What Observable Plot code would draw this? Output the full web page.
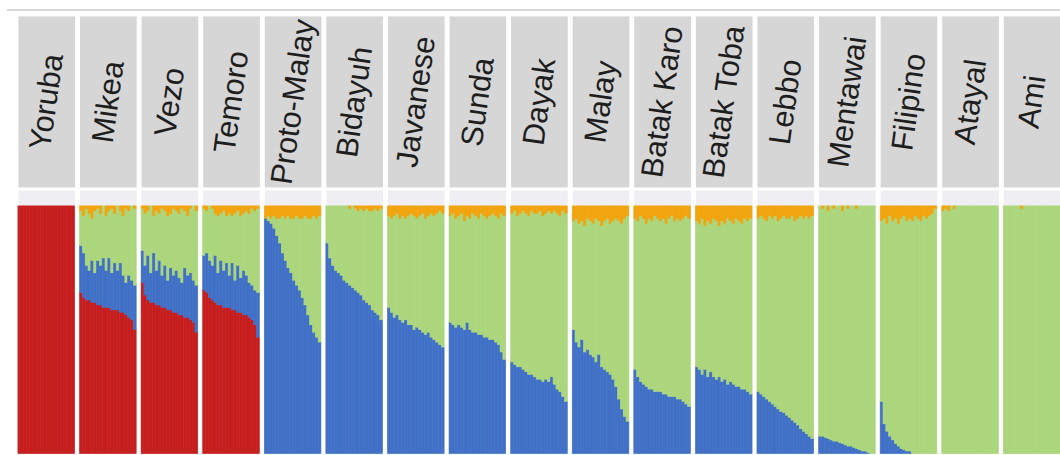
<!DOCTYPE html>
<html><head><meta charset="utf-8">
<script src="https://cdn.jsdelivr.net/npm/d3@7"></script>
<script src="https://cdn.jsdelivr.net/npm/@observablehq/plot@0.6"></script>
<style>
html,body{margin:0;padding:0;background:#fff;overflow:hidden;width:1060px;height:455px;}
#wrap{position:relative;width:1060px;height:455px;overflow:hidden;}
#rule{position:absolute;left:7px;top:9px;width:1060px;height:2px;background:#d6d6d6;}
#strips{position:absolute;left:0;top:0;}
#bars{position:absolute;left:0;top:190px;}
</style></head><body>
<div id="wrap"><div id="rule"></div><div id="strips"></div><div id="bars"></div></div>
<script>
// Populations (facet order)
const populations = ["Yoruba","Mikea","Vezo","Temoro","Proto-Malay","Bidayuh","Javanese","Sunda","Dayak","Malay","Batak Karo","Batak Toba","Lebbo","Mentawai","Filipino","Atayal","Ami"];
// Ancestry components, bottom to top
const components = ["African","Austronesian","Asian","Other"];
const componentColors = ["#c61e1e","#4171c6","#acd67c","#f2a40e"];

// Per-individual ancestry fractions (20 individuals per population); the "Asian" share is the remainder
const yorubaRed      = [1,1,1,1,1,1,1,1,1,1,1,1,1,1,1,1,1,1,1,1];

const mikeaRed       = [0.65,0.63,0.62,0.62,0.61,0.61,0.60,0.60,0.59,0.59,0.59,0.58,0.58,0.58,0.57,0.57,0.56,0.55,0.54,0.50];
const mikeaBlue      = [0.19,0.18,0.14,0.12,0.17,0.12,0.18,0.16,0.20,0.15,0.20,0.15,0.19,0.16,0.20,0.15,0.13,0.17,0.16,0.18];
const mikeaOrange    = [0.02,0.04,0.01,0.03,0.05,0.02,0.01,0.03,0.00,0.04,0.02,0.01,0.03,0.00,0.02,0.04,0.01,0.02,0.00,0.01];

const vezoRed        = [0.69,0.64,0.62,0.61,0.61,0.60,0.60,0.59,0.59,0.58,0.58,0.57,0.57,0.56,0.56,0.55,0.55,0.54,0.53,0.49];
const vezoBlue       = [0.13,0.12,0.18,0.12,0.20,0.14,0.18,0.13,0.17,0.12,0.17,0.15,0.17,0.15,0.13,0.20,0.17,0.19,0.17,0.19];
const vezoOrange     = [0.01,0.03,0.02,0.00,0.04,0.02,0.03,0.01,0.02,0.04,0.03,0.01,0.02,0.03,0.01,0.02,0.04,0.01,0.00,0.02];

const temoroRed      = [0.66,0.65,0.63,0.62,0.61,0.60,0.60,0.59,0.59,0.59,0.58,0.58,0.57,0.57,0.56,0.56,0.55,0.54,0.52,0.47];
const temoroBlue     = [0.14,0.16,0.15,0.14,0.19,0.13,0.18,0.15,0.18,0.13,0.19,0.12,0.19,0.14,0.18,0.16,0.14,0.14,0.14,0.18];
const temoroOrange   = [0.01,0.02,0.00,0.01,0.03,0.04,0.03,0.02,0.04,0.03,0.04,0.03,0.02,0.04,0.03,0.02,0.03,0.01,0.02,0.01];

const protoMalayBlue   = [0.95,0.94,0.93,0.91,0.88,0.85,0.81,0.78,0.75,0.73,0.70,0.68,0.66,0.63,0.60,0.56,0.52,0.49,0.47,0.45];
const protoMalayOrange = [0.05,0.04,0.05,0.04,0.05,0.05,0.04,0.05,0.04,0.05,0.05,0.04,0.05,0.05,0.04,0.05,0.05,0.04,0.05,0.04];

const bidayuhBlue    = [0.85,0.79,0.76,0.74,0.73,0.72,0.70,0.69,0.68,0.67,0.66,0.65,0.64,0.62,0.61,0.60,0.58,0.57,0.56,0.54];
const bidayuhOrange  = [0,0,0,0,0,0,0,0,0.01,0,0.01,0.02,0.01,0.02,0.01,0.02,0.02,0.01,0.02,0.01];

const javaneseBlue   = [0.59,0.57,0.55,0.56,0.54,0.53,0.54,0.52,0.52,0.50,0.51,0.50,0.49,0.48,0.49,0.47,0.46,0.45,0.44,0.43];
const javaneseOrange = [0.04,0.05,0.04,0.03,0.05,0.04,0.05,0.04,0.03,0.04,0.05,0.04,0.03,0.05,0.04,0.03,0.04,0.03,0.02,0.03];

const sundaBlue      = [0.53,0.52,0.51,0.52,0.51,0.50,0.53,0.50,0.49,0.49,0.48,0.48,0.47,0.47,0.46,0.46,0.45,0.44,0.41,0.38];
const sundaOrange    = [0.04,0.03,0.05,0.04,0.03,0.06,0.04,0.05,0.03,0.04,0.05,0.03,0.04,0.05,0.04,0.03,0.04,0.05,0.03,0.04];

const dayakBlue      = [0.37,0.36,0.35,0.35,0.34,0.33,0.32,0.32,0.31,0.30,0.30,0.29,0.30,0.29,0.31,0.28,0.26,0.25,0.23,0.21];
const dayakOrange    = [0.03,0.02,0.04,0.03,0.02,0.03,0.04,0.02,0.03,0.03,0.02,0.04,0.03,0.02,0.03,0.02,0.03,0.04,0.02,0.03];

const malayBlue      = [0.50,0.45,0.43,0.46,0.41,0.42,0.40,0.39,0.37,0.40,0.35,0.34,0.33,0.32,0.30,0.27,0.22,0.18,0.15,0.13];
const malayOrange    = [0.06,0.05,0.07,0.06,0.08,0.05,0.06,0.07,0.05,0.06,0.08,0.06,0.05,0.07,0.06,0.05,0.06,0.07,0.05,0.04];

const batakKaroBlue   = [0.34,0.31,0.29,0.28,0.27,0.26,0.26,0.25,0.25,0.25,0.24,0.24,0.23,0.23,0.23,0.22,0.22,0.21,0.20,0.19];
const batakKaroOrange = [0.05,0.06,0.04,0.05,0.07,0.05,0.06,0.04,0.05,0.06,0.05,0.07,0.05,0.04,0.06,0.05,0.06,0.05,0.04,0.05];

const batakTobaBlue   = [0.35,0.34,0.32,0.34,0.31,0.33,0.31,0.30,0.31,0.29,0.30,0.28,0.29,0.28,0.27,0.27,0.26,0.26,0.25,0.24];
const batakTobaOrange = [0.06,0.07,0.05,0.08,0.06,0.07,0.05,0.06,0.08,0.06,0.07,0.05,0.06,0.07,0.05,0.06,0.07,0.05,0.06,0.05];

const lebboBlue      = [0.25,0.24,0.23,0.22,0.21,0.20,0.19,0.18,0.17,0.165,0.155,0.145,0.135,0.125,0.115,0.10,0.09,0.08,0.07,0.06];
const lebboOrange    = [0.05,0.04,0.05,0.06,0.04,0.05,0.04,0.06,0.05,0.04,0.05,0.05,0.04,0.06,0.05,0.04,0.05,0.04,0.05,0.04];

const mentawaiBlue   = [0.07,0.07,0.065,0.06,0.055,0.05,0.05,0.045,0.04,0.035,0.03,0.03,0.025,0.02,0.015,0.01,0.01,0.005,0,0];
const mentawaiOrange = [0,0.01,0,0.02,0,0.01,0,0,0.02,0,0.01,0,0,0.01,0,0,0,0,0,0];

const filipinoBlue   = [0.21,0.12,0.09,0.07,0.055,0.04,0.03,0.02,0.015,0.01,0.01,0,0,0,0,0,0,0,0,0];
const filipinoOrange = [0.06,0.05,0.07,0.04,0.06,0.05,0.07,0.05,0.04,0.06,0.05,0.06,0.04,0.05,0.06,0.04,0.05,0.04,0.03,0.01];

const atayalOrange   = [0.02,0.01,0.02,0,0.01,0,0,0,0,0,0,0,0,0,0,0,0,0,0,0];
const amiOrange      = [0,0,0,0,0,0,0.01,0,0,0,0,0,0,0,0,0,0,0,0,0];

// Which arrays belong to which population: [red, blue, orange]
const sources = {
  "Yoruba": [yorubaRed, null, null],
  "Mikea": [mikeaRed, mikeaBlue, mikeaOrange],
  "Vezo": [vezoRed, vezoBlue, vezoOrange],
  "Temoro": [temoroRed, temoroBlue, temoroOrange],
  "Proto-Malay": [null, protoMalayBlue, protoMalayOrange],
  "Bidayuh": [null, bidayuhBlue, bidayuhOrange],
  "Javanese": [null, javaneseBlue, javaneseOrange],
  "Sunda": [null, sundaBlue, sundaOrange],
  "Dayak": [null, dayakBlue, dayakOrange],
  "Malay": [null, malayBlue, malayOrange],
  "Batak Karo": [null, batakKaroBlue, batakKaroOrange],
  "Batak Toba": [null, batakTobaBlue, batakTobaOrange],
  "Lebbo": [null, lebboBlue, lebboOrange],
  "Mentawai": [null, mentawaiBlue, mentawaiOrange],
  "Filipino": [null, filipinoBlue, filipinoOrange],
  "Atayal": [null, null, atayalOrange],
  "Ami": [null, null, amiOrange]
};

// Build long table for the stacked bars
const rows = [];
for (const pop of populations) {
  const [r, b, o] = sources[pop];
  const n = (r || b || o).length;
  for (let i = 0; i < n; i++) {
    const red = r ? r[i] : 0, blue = b ? b[i] : 0, orange = o ? o[i] : 0;
    const green = Math.max(0, 1 - red - blue - orange);
    rows.push({pop, ind: i, component: "African", value: red});
    rows.push({pop, ind: i, component: "Austronesian", value: blue});
    rows.push({pop, ind: i, component: "Asian", value: green});
    rows.push({pop, ind: i, component: "Other", value: orange});
  }
}

const W = 1066;
const fxScale = {domain: populations, paddingInner: 0.08, paddingOuter: 0, round: false, axis: null, label: null};

const strips = Plot.plot({
  width: W, height: 190,
  marginTop: 16, marginBottom: 2, marginLeft: 18, marginRight: 0,
  style: {background: "transparent", fontFamily: "'Liberation Sans', Arial, sans-serif"},
  fx: fxScale,
  marks: [
    Plot.frame({fill: "#d6d6d6", stroke: "none"}),
    Plot.text(populations, {fx: d => d, text: d => d, frameAnchor: "middle", rotate: -82,
      fontSize: 31, fill: "#1e1e1e", fontFamily: "'Liberation Sans', Arial, sans-serif"})
  ]
});
document.getElementById("strips").appendChild(strips);

const bars = Plot.plot({
  width: W, height: 265,
  marginTop: 0, marginBottom: 0, marginLeft: 18, marginRight: 0,
  style: {background: "transparent"},
  fx: fxScale,
  x: {axis: null, padding: 0, round: false, label: null},
  y: {domain: [0, 1], range: [265, 16], axis: null},
  color: {domain: components, range: componentColors},
  marks: [
    Plot.frame({fill: "#efeef3", stroke: "none"}),
    Plot.barY(rows, {fx: "pop", x: "ind", y: "value", fill: "component", stroke: "component",
      strokeWidth: 0.6, inset: 0, order: components})
  ]
});
document.getElementById("bars").appendChild(bars);
</script></body></html>
